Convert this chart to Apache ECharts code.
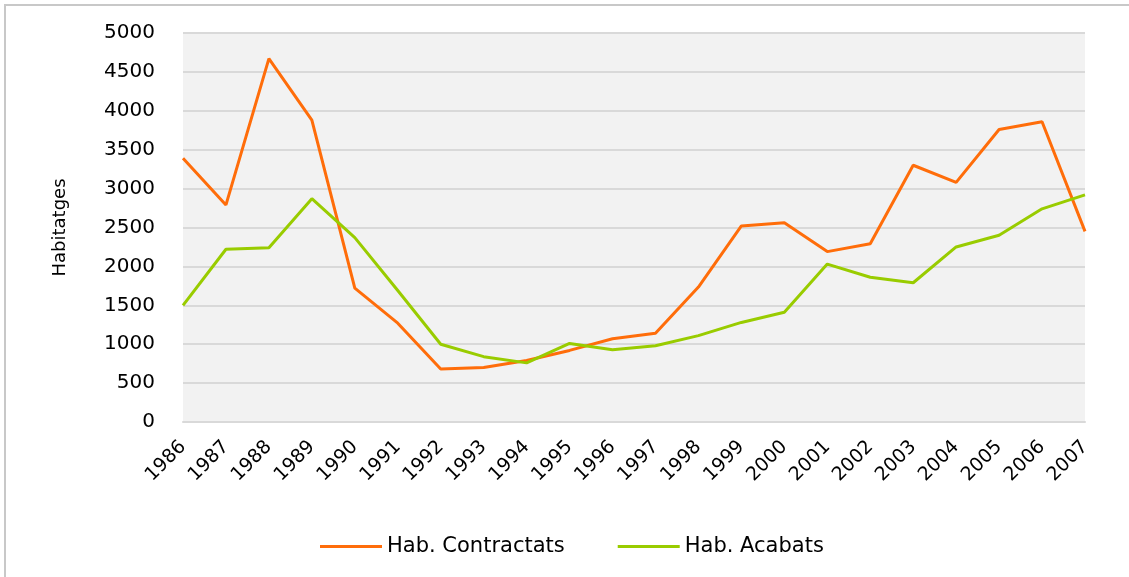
<!DOCTYPE html>
<html>
<head>
<meta charset="utf-8">
<script src="https://cdn.jsdelivr.net/npm/echarts@6/dist/echarts.min.js"></script>
<style>
    html, body {margin: 0; padding: 0; background: #fff; overflow: hidden;}
    #chart {width: 1129px; height: 577px;}
    .frame {position: absolute; left: 4px; top: 4px; right: 0; bottom: 0;
        border-left: 2px solid #c8c8c8; border-top: 2px solid #c8c8c8; pointer-events: none;}
</style>
</head>
<body>
<div id="chart"></div>
<div class="frame"></div>
<script>
    const years = ['1986', '1987', '1988', '1989', '1990', '1991', '1992', '1993', '1994', '1995', '1996',
        '1997', '1998', '1999', '2000', '2001', '2002', '2003', '2004', '2005', '2006', '2007'];
    const contractats = [3390, 2790, 4670, 3880, 1720, 1270, 680, 700, 790, 920, 1070,
        1140, 1735, 2520, 2560, 2190, 2290, 3300, 3080, 3760, 3860, 2450];
    const acabats = [1500, 2220, 2240, 2870, 2370, 1690, 1000, 840, 760, 1010, 930,
        980, 1110, 1280, 1410, 2030, 1860, 1790, 2250, 2400, 2740, 2920];
    const yTicks = {min: 0, max: 5000, interval: 500};

    const font = 'DejaVu Sans';
    const chart = echarts.init(document.getElementById('chart'));
    chart.setOption({
        animation: false,
        textStyle: {fontFamily: font, color: '#000'},
        grid: {left: 183, right: 44, top: 33, bottom: 155, containLabel: false,
            show: true, backgroundColor: '#f2f2f2', borderWidth: 0},
        legend: {
            left: 315,
            top: 531,
            icon: 'rect',
            itemWidth: 62,
            itemHeight: 3,
            itemGap: 53,
            textStyle: {fontSize: 21, color: '#000', fontFamily: font},
            data: ['Hab. Contractats', 'Hab. Acabats']
        },
        xAxis: {
            type: 'category',
            data: years,
            boundaryGap: false,
            axisLine: {show: true, lineStyle: {color: '#d9d9d9', width: 2}},
            axisTick: {show: false},
            axisLabel: {rotate: 45, fontSize: 19, color: '#000', margin: 22, interval: 0}
        },
        yAxis: {
            type: 'value',
            min: yTicks.min,
            max: yTicks.max,
            interval: yTicks.interval,
            name: 'Habitatges',
            nameLocation: 'middle',
            nameGap: 114,
            nameTextStyle: {fontSize: 18, color: '#000'},
            axisLine: {show: false},
            axisTick: {show: false},
            axisLabel: {fontSize: 20, color: '#000', margin: 28, formatter: v => String(v)},
            splitLine: {lineStyle: {color: '#d9d9d9', width: 2}}
        },
        series: [
            {
                name: 'Hab. Contractats',
                type: 'line',
                data: contractats,
                symbol: 'none',
                lineStyle: {color: '#ff6d0a', width: 3},
                itemStyle: {color: '#ff6d0a'}
            },
            {
                name: 'Hab. Acabats',
                type: 'line',
                data: acabats,
                symbol: 'none',
                lineStyle: {color: '#99cc00', width: 3},
                itemStyle: {color: '#99cc00'}
            }
        ]
    });
</script>
</body>
</html>
